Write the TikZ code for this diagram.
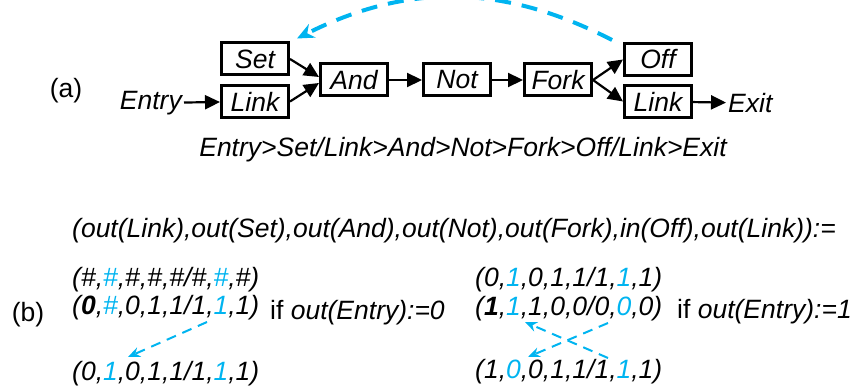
\documentclass[tikz,border=0pt]{standalone}
\usepackage{fontspec}
\setmainfont{Liberation Sans}
\usepackage{tikz}
\usetikzlibrary{arrows.meta}
\definecolor{skyblue}{RGB}{0,180,240}
\newcommand{\hl}[1]{\textcolor{skyblue}{#1}}

\begin{document}
\begin{tikzpicture}[x=1pt,y=-1pt,
		font=\fontsize{26.5}{30}\selectfont\itshape, inner sep=2pt,
		block/.style={draw, line width=3pt, minimum width=67pt, minimum height=32pt, inner sep=0pt},
		flow/.style={line width=2.2pt, -{Triangle[length=15pt,width=14pt]}},
		back/.style={skyblue, line width=4pt, dash pattern=on 16pt off 11pt, -{Stealth[length=17pt,width=15pt]}},
		swap/.style={skyblue, line width=2pt, dash pattern=on 10pt off 7pt, -{Stealth[length=12pt,width=10pt]}}]
		\useasboundingbox (0,0) rectangle (853,390);
		% (a)
		\node[font=\fontsize{26.5}{30}\selectfont\upshape] (tagA) at (66,91) {(a)};
		\node[anchor=east] (entry) at (184,103) {Entry};
		\node[block] (set) at (255,59) {Set};
		\node[block] (link) at (255,101.5) {Link};
		\node[block] (and) at (354,80) {And};
		\node[block] (not) at (457,80) {Not};
		\node[block] (fork) at (558,80) {Fork};
		\node[block] (off) at (658,59.5) {Off};
		\node[block] (link2) at (658,101.5) {Link};
		\node[anchor=west] (exit) at (726,103) {Exit};
		\node (path) at (463,150) {Entry>Set/Link>And>Not>Fork>Off/Link>Exit};
		\path[flow]
		(entry) edge (link)
		(set.east) edge ([yshift=3pt]and.west)
		(link.east) edge ([yshift=-3pt]and.west)
		(and) edge (not)
		(not) edge (fork)
		(fork.east) edge (off.west)
		(fork.east) edge (link2.west)
		(link2) edge (exit);
		\draw[back] ([xshift=-11pt,yshift=2pt]off.north west) to[bend right=27] ([xshift=7pt,yshift=3pt]set.north east);
		% (b)
		\node[font=\fontsize{26.5}{30}\selectfont\upshape] (tagB) at (28,315) {(b)};
		\node[anchor=west] (vars) at (70,231) {(out(Link),out(Set),out(And),out(Not),out(Fork),in(Off),out(Link)):=};
		\node[anchor=west] (gen) at (70,280) {(\#,\hl{\#},\#,\#,\#/\#,\hl{\#},\#)};
		\node[anchor=west] (zero) at (70,308) {(\textbf{0},\hl{\#},0,1,1/1,\hl{1},1)};
		\node[anchor=west] (ifzero) at (268,313) {{\upshape if} out(Entry):=0};
		\node[anchor=west] (zeroRes) at (70,374) {(0,\hl{1},0,1,1/1,\hl{1},1)};
		\node[anchor=west] (oneTop) at (473,280) {(0,\hl{1},0,1,1/1,\hl{1},1)};
		\node[anchor=west] (one) at (473,309) {(\textbf{1},\hl{1},1,0,0/0,\hl{0},0)};
		\node[anchor=west] (ifone) at (675,312) {{\upshape if} out(Entry):=1};
		\node[anchor=west] (oneRes) at (473,372) {(1,\hl{0},0,1,1/1,\hl{1},1)};
		\coordinate (z1) at (207,322);
		\coordinate (z2) at (128,357);
		\coordinate (o1) at (608,323);
		\coordinate (o2) at (528,357);
		\coordinate (o3) at (608,358);
		\coordinate (o4) at (525,322);
		\draw[swap] (z1) -- (z2);
		\draw[swap] (o1) -- (o2);
		\draw[swap] (o3) -- (o4);
\end{tikzpicture}
\end{document}
